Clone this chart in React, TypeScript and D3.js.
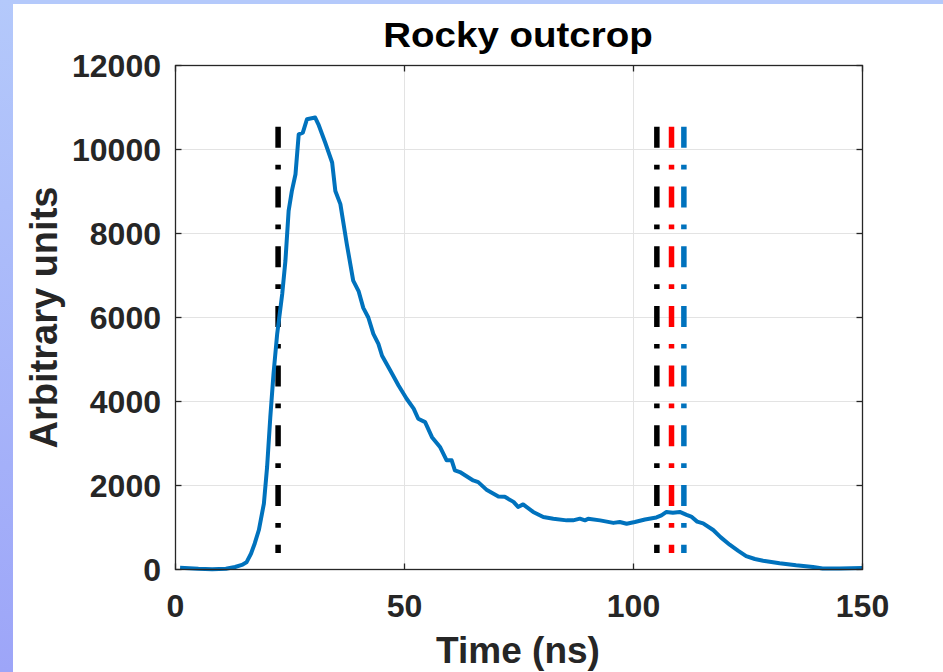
import React from "react";
import * as d3 from "d3";

const timeNs: number[] = [1, 3, 5, 8, 11, 13, 14.5, 15.5, 16.5, 17.3, 18.2, 19.3, 20.0, 20.7, 21.4, 22.2, 23.3, 24.0, 24.7, 25.4, 26.2, 26.9, 27.8, 28.7, 30.5, 31.2, 32.7, 34.2, 34.9, 36.0, 37.4, 38.8, 40.0, 41.0, 42.1, 43.2, 44.3, 45.1, 46.9, 48.7, 50.5, 52.0, 53.0, 54.5, 56.0, 57.8, 59.2, 60.3, 61.0, 62.1, 65.0, 66.1, 68.0, 70.5, 71.9, 73.8, 74.8, 75.9, 78.1, 80.3, 82.5, 85.4, 86.8, 88.3, 89.4, 90.1, 92.7, 95.6, 97.0, 98.5, 100.3, 102.5, 105.0, 106.1, 107.2, 108.6, 110.1, 111.6, 112.6, 113.9, 115.2, 117.4, 119.0, 121.0, 122.8, 124.6, 126.5, 128.3, 131.9, 135.5, 139.2, 141.3, 145, 150];
const amplitude: number[] = [40, 30, 15, 5, 20, 60, 110, 170, 380, 620, 940, 1570, 2440, 3630, 4660, 5610, 6560, 7350, 8540, 9010, 9410, 10360, 10400, 10720, 10760, 10600, 10160, 9690, 9010, 8700, 7750, 6880, 6620, 6230, 6000, 5610, 5370, 5090, 4740, 4380, 4060, 3830, 3590, 3510, 3150, 2910, 2600, 2600, 2360, 2320, 2120, 2080, 1890, 1740, 1730, 1610, 1490, 1550, 1370, 1250, 1210, 1170, 1170, 1210, 1170, 1210, 1170, 1110, 1130, 1090, 1130, 1190, 1240, 1290, 1370, 1350, 1370, 1300, 1260, 1140, 1100, 940, 770, 590, 450, 320, 250, 210, 150, 100, 60, 25, 25, 35];

const markerTimes: number[] = [22.4, 105.1, 108.3, 111.0];
const markerColors: string[] = ["#000000", "#000000", "#ff0000", "#0072BD"];
const markerTop = 10540;
const markerBottom = 390;

const xTicks: number[] = [0, 50, 100, 150];
const yTicks: number[] = [0, 2000, 4000, 6000, 8000, 10000, 12000];

const titleText = "Rocky outcrop";
const xLabel = "Time (ns)";
const yLabel = "Arbitrary units";

const W = 943;
const H = 672;
const L = 175.5, R = 862.5, T = 65.5, B = 569.5;
const FONT = "'Liberation Sans', Arial, Helvetica, sans-serif";

export default function App() {
  const x = d3.scaleLinear().domain([0, 150]).range([L, R]);
  const y = d3.scaleLinear().domain([0, 12000]).range([B, T]);
  const data = timeNs.map((t, i) => [t, amplitude[i]] as [number, number]);
  const line = d3.line<[number, number]>().x(d => x(d[0])).y(d => y(d[1]));
  const axisColor = "#262626";
  const tick = 6;
  return (
    <svg width={W} height={H} style={{ position: "absolute", left: 0, top: 0, display: "block" }}>
      <defs>
        <linearGradient id="leftBand" x1="0" y1="0" x2="0" y2="1">
          <stop offset="0" stopColor="#b4c9fb" />
          <stop offset="1" stopColor="#9da5f8" />
        </linearGradient>
      </defs>
      <rect x={0} y={0} width={W} height={H} fill="#ffffff" />
      <rect x={0} y={0} width={W} height={4} fill="#b4c9fb" />
      <rect x={0} y={0} width={13} height={H} fill="url(#leftBand)" />

      {xTicks.map(t => (
        <line key={"gx" + t} x1={x(t)} x2={x(t)} y1={T} y2={B} stroke="#e3e3e3" strokeWidth={1} />
      ))}
      {yTicks.map(v => (
        <line key={"gy" + v} x1={L} x2={R} y1={y(v)} y2={y(v)} stroke="#e3e3e3" strokeWidth={1} />
      ))}

      {markerTimes.map((t, i) => (
        <line key={"m" + i} x1={x(t)} x2={x(t)} y1={y(markerTop)} y2={y(markerBottom)}
          stroke={markerColors[i]} strokeWidth={5.5} strokeDasharray="21 17 4.7 17" strokeLinecap="butt" />
      ))}

      <path d={line(data) || ""} fill="none" stroke="#0072BD" strokeWidth={4} strokeLinejoin="round" />

      <rect x={L} y={T} width={R - L} height={B - T} fill="none" stroke={axisColor} strokeWidth={1.3} />
      {xTicks.map(t => (
        <g key={"tx" + t}>
          <line x1={x(t)} x2={x(t)} y1={B} y2={B - tick} stroke={axisColor} strokeWidth={1.3} />
          <line x1={x(t)} x2={x(t)} y1={T} y2={T + tick} stroke={axisColor} strokeWidth={1.3} />
          <text x={x(t)} y={617} textAnchor="middle" fontFamily={FONT} fontWeight="bold" fontSize={32} fill={axisColor}>{t}</text>
        </g>
      ))}
      {yTicks.map(v => (
        <g key={"ty" + v}>
          <line x1={L} x2={L + tick} y1={y(v)} y2={y(v)} stroke={axisColor} strokeWidth={1.3} />
          <line x1={R} x2={R - tick} y1={y(v)} y2={y(v)} stroke={axisColor} strokeWidth={1.3} />
          <text x={161} y={y(v) + 11.5} textAnchor="end" fontFamily={FONT} fontWeight="bold" fontSize={32} fill={axisColor}>{v}</text>
        </g>
      ))}

      <g transform={`translate(518,47.3) scale(1.1,1)`}>
        <text x={0} y={0} textAnchor="middle" fontFamily={FONT} fontWeight="bold" fontSize={35} fill="#000000">{titleText}</text>
      </g>
      <text x={518} y={663} textAnchor="middle" fontFamily={FONT} fontWeight="bold" fontSize={37} fill={axisColor}>{xLabel}</text>
      <text transform={`translate(57,317.5) rotate(-90)`} x={0} y={0} textAnchor="middle" fontFamily={FONT} fontWeight="bold" fontSize={38} fill={axisColor}>{yLabel}</text>
    </svg>
  );
}
